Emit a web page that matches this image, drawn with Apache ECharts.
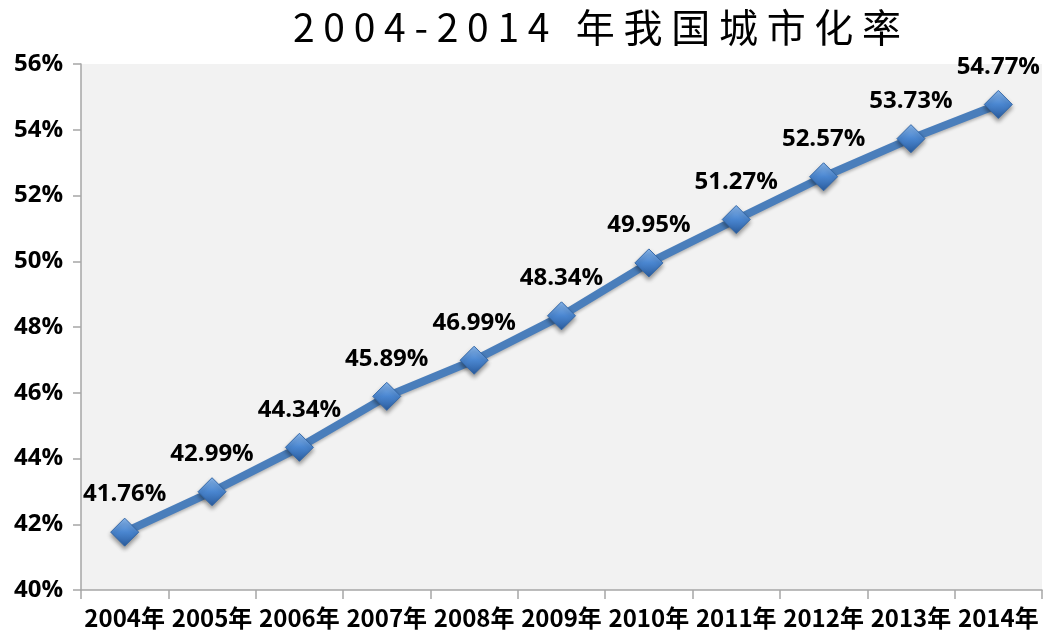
<!DOCTYPE html>
<html>
<head>
<meta charset="utf-8">
<script src="https://cdn.jsdelivr.net/npm/echarts@6/dist/echarts.min.js"></script>
<style>
html,body{margin:0;padding:0;background:#fff;}
#c{width:1048px;height:640px;}
</style>
</head>
<body>
<div id="c"></div>
<script>
var titleText = '2004-2014 年我国城市化率';
var categories = ['2004年','2005年','2006年','2007年','2008年','2009年','2010年','2011年','2012年','2013年','2014年'];
var rates = [41.76, 42.99, 44.34, 45.89, 46.99, 48.34, 49.95, 51.27, 52.57, 53.73, 54.77];
var yMin = 40, yMax = 56, yStep = 2;

var chart = echarts.init(document.getElementById('c'));
var spaced = titleText.split('').join(' ');
chart.setOption({
  animation: false,
  backgroundColor: '#ffffff',
  title: {
    text: spaced,
    left: 592,
    top: 3,
    textAlign: 'center',
    textStyle: {
      fontFamily: '"Noto Sans CJK SC", "DejaVu Sans"',
      fontWeight: 'normal',
      fontSize: 39,
      color: '#000'
    }
  },
  grid: {
    left: 81, right: 6, top: 64, bottom: 50,
    show: true,
    backgroundColor: '#F2F2F2',
    borderWidth: 0
  },
  xAxis: {
    type: 'category',
    data: categories,
    boundaryGap: true,
    axisLine: { show: true, lineStyle: { color: '#A6A6A6', width: 1.5 } },
    axisTick: { show: true, length: 9, lineStyle: { color: '#A6A6A6', width: 1.5 } },
    axisLabel: {
      interval: 0,
      margin: 16,
      fontFamily: '"Noto Sans CJK SC", "Open Sans"',
      fontWeight: 'bold',
      fontSize: 24,
      color: '#000'
    },
    splitLine: { show: false }
  },
  yAxis: {
    type: 'value',
    min: yMin, max: yMax, interval: yStep,
    axisLine: { show: true, lineStyle: { color: '#A6A6A6', width: 1.5 } },
    axisTick: { show: true, length: 8, lineStyle: { color: '#A6A6A6', width: 1.5 } },
    axisLabel: {
      margin: 18,
      formatter: '{value}%',
      fontFamily: '"Open Sans", "Liberation Sans"',
      fontWeight: 'bold',
      fontSize: 24,
      color: '#000'
    },
    splitLine: { show: false }
  },
  series: [{
    type: 'line',
    data: rates,
    symbol: 'diamond',
    symbolSize: [28, 28],
    lineStyle: {
      color: '#4A7EBB', width: 8,
      shadowColor: 'rgba(0,0,0,0.25)', shadowBlur: 3, shadowOffsetY: 2
    },
    itemStyle: {
      color: new echarts.graphic.LinearGradient(0, 0, 0, 1, [
        { offset: 0, color: '#8DBBF0' },
        { offset: 0.5, color: '#4A86D0' },
        { offset: 1, color: '#2A5B9C' }
      ]),
      borderColor: '#3468A8',
      borderWidth: 1,
      shadowColor: 'rgba(0,0,0,0.4)', shadowBlur: 4, shadowOffsetY: 3
    },
    label: {
      show: true,
      position: 'top',
      distance: 11,
      formatter: function (p) { return p.value.toFixed(2) + '%'; },
      fontFamily: '"Open Sans", "Liberation Sans"',
      fontWeight: 'bold',
      fontSize: 24,
      color: '#000'
    },
    z: 3
  }]
});
</script>
</body>
</html>
